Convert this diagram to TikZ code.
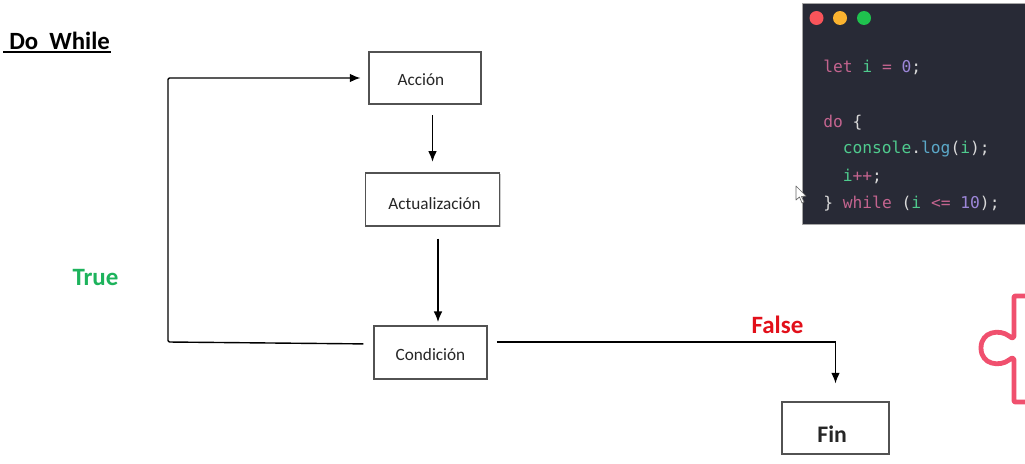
\documentclass[tikz,border=0pt]{standalone}
\usepackage{fontspec}
\setmainfont{Carlito}
\newfontfamily\codefont{DejaVu Sans Mono}
\usetikzlibrary{arrows.meta,calc,shadows}
\definecolor{panel}{HTML}{282A36}
\definecolor{kw}{HTML}{C4648F}
\definecolor{idc}{HTML}{4FCB8E}
\definecolor{num}{HTML}{9C86D8}
\definecolor{fnc}{HTML}{5BA8C8}
\definecolor{plain}{HTML}{D9D9D9}
\definecolor{truec}{HTML}{1DB35C}
\definecolor{falsec}{HTML}{E2101A}
\definecolor{puzzle}{HTML}{F0506E}
\definecolor{dotr}{HTML}{F9545A}
\definecolor{doty}{HTML}{FBB32F}
\definecolor{dotg}{HTML}{1FC24E}
\newcommand{\placed}[3]{\hspace*{#1pt}\raisebox{#2pt}[0pt][0pt]{#3}}
\tikzset{
  x=0.75pt,y=-0.75pt,
  flowbox/.style={draw=black!68,line width=0.85pt,fill=white,inner sep=0pt,font=\fontsize{12.9pt}{15pt}\selectfont,text=black!85,
    drop shadow={shadow xshift=0.9pt,shadow yshift=-0.9pt,opacity=.4,fill=gray}},
  flow/.style={draw=black,line width=1.05pt,-{Latex[length=8pt,width=6.5pt]}},
  codeline/.style={anchor=west,inner sep=0pt,font=\codefont\fontsize{12.2pt}{14pt}\selectfont},
  dot/.style={circle,minimum size=10.5pt,inner sep=0pt},
  branch/.style={inner sep=0pt,font=\bfseries\fontsize{18.7pt}{20pt}\selectfont},
}
\begin{document}
\begin{tikzpicture}
\useasboundingbox (0,0) rectangle (1025,464);
\fill[white] (0,0) rectangle (1025,464);

% title
\node[inner sep=0pt,anchor=west,font=\bfseries\fontsize{18.6pt}{20pt}\selectfont] (title) at (9,41) {Do\ \ While};
\draw[line width=1.1pt] (3,52) -- (111,52);

% flow boxes
\node[flowbox,minimum width=84pt,minimum height=39pt] (accion) at (425,78) {\placed{-6}{-5.6}{Acción}};
\node[flowbox,minimum width=101pt,minimum height=39.75pt] (actual) at (432.5,199.5) {\placed{3}{-7.5}{Actualización}};
\node[flowbox,minimum width=84.75pt,minimum height=39.75pt] (cond) at (430.5,352.5) {\placed{0}{-6}{Condición}};
\node[flowbox,minimum width=80.25pt,minimum height=39pt,font=\bfseries\fontsize{17.8pt}{20pt}\selectfont] (fin) at (835.5,428) {\placed{-5}{-10.5}{Fin}};

% connectors
\draw[flow,shorten <=8pt,shorten >=8pt] ($(accion.south)+(7.5,0)$) -- (actual.north);
\draw[flow,shorten <=9pt,shorten >=2.5pt] ($(actual.south)+(5.5,0)$) -- ($(cond.north)+(7.5,0)$);
\draw[flow,shorten <=7pt,shorten >=13.5pt] ($(cond.east)+(0,-10.5)$) -| (fin.north);
\draw[flow,shorten <=7.5pt,shorten >=6pt,rounded corners=1pt] ($(cond.west)+(0,-8.5)$) -- (168,342) -- (168,78) -- (accion.west);

% branch labels
\node[branch,text=truec] (truelab) at (95.5,278) {True};
\node[branch,text=falsec] (falselab) at (777.5,325) {False};

% code panel
\fill[panel] (802,3) rectangle (1025,224);
\draw[black!35,line width=0.6pt] (1025,3) -- (802,3) -- (802,224) -- (1025,224);
\node[dot,fill=dotr] (d1) at (816.5,18) {};
\node[dot,fill=doty] (d2) at (840,18) {};
\node[dot,fill=dotg] (d3) at (864,18) {};

\node[codeline] (c1) at (823,67.5) {\textcolor{kw}{let} \textcolor{idc}{i} \textcolor{kw}{=} \textcolor{num}{0}\textcolor{plain}{;}};
\node[codeline] (c2) at (823,122.5) {\textcolor{kw}{do} \textcolor{plain}{\{}};
\node[codeline] (c3) at (842.5,149.5) {\textcolor{idc}{console}\textcolor{plain}{.}\textcolor{fnc}{log}\textcolor{plain}{(}\textcolor{idc}{i}\textcolor{plain}{);}};
\node[codeline] (c4) at (842.5,176.5) {\textcolor{idc}{i}\textcolor{kw}{++}\textcolor{plain}{;}};
\node[codeline] (c5) at (823,203.5) {\textcolor{plain}{\}} \textcolor{kw}{while} \textcolor{plain}{(}\textcolor{idc}{i} \textcolor{kw}{<=} \textcolor{num}{10}\textcolor{plain}{);}};

% mouse pointer
\draw[fill=white,draw=black!60,line width=0.5pt,line join=round] (796,186) -- (796,200) -- (799.5,197) -- (802,203) -- (804,202) -- (801.5,196.5) -- (806,196) -- cycle;

% puzzle outline
\draw[puzzle,line width=3.6pt,line join=round,line cap=round]
  (1025,296) -- (1015,296) -- (1014,297) -- (1014,336)
  .. controls (1013,339) and (1011,338) .. (1009,336)
  .. controls (1000,329) and (981,331) .. (981,348)
  .. controls (981,365) and (1000,367) .. (1009,360)
  .. controls (1011,358) and (1013,357) .. (1014,360)
  -- (1014,401) -- (1015,402) -- (1025,402);
\end{tikzpicture}
\end{document}
